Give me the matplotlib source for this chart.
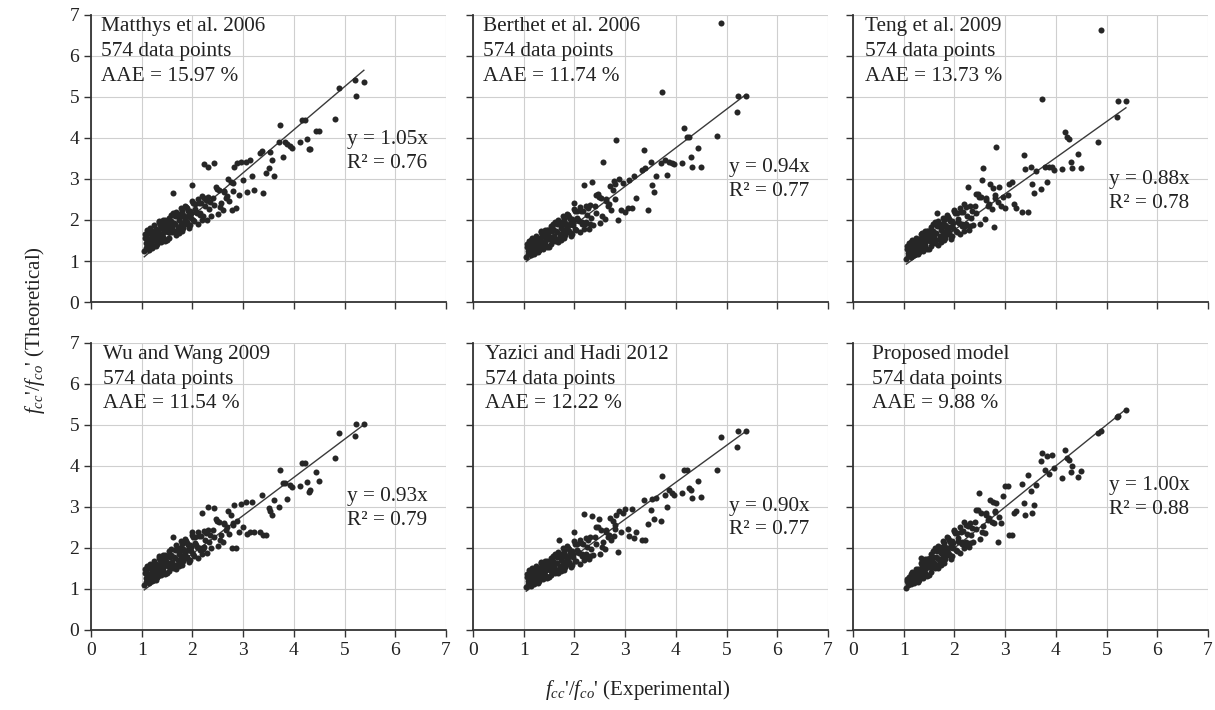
import matplotlib
matplotlib.use('Agg')
import matplotlib.pyplot as plt

plt.rcParams['font.family'] = ['Liberation Serif', 'DejaVu Serif']
plt.rcParams['mathtext.fontset'] = 'custom'
plt.rcParams['mathtext.rm'] = 'Liberation Serif'
plt.rcParams['mathtext.it'] = 'Liberation Serif:italic'

# panel texts
models = ['Matthys et al. 2006', 'Berthet et al. 2006', 'Teng et al. 2009',
          'Wu and Wang 2009', 'Yazici and Hadi 2012', 'Proposed model']
n_points = [574, 574, 574, 574, 574, 574]
aae = ['15.97', '11.74', '13.73', '11.54', '12.22', '9.88']
slopes = [1.05, 0.94, 0.88, 0.93, 0.90, 1.00]
r2 = [0.76, 0.77, 0.78, 0.79, 0.77, 0.88]

# experimental fcc'/fco' (same database for every model)
exp_x = [
    1.05, 1.07, 1.08, 1.10, 1.10, 1.12, 1.13, 1.14, 1.15, 1.16,
    1.17, 1.18, 1.19, 1.20, 1.21, 1.22, 1.23, 1.24, 1.25, 1.26,
    1.27, 1.28, 1.29, 1.30, 1.31, 1.32, 1.33, 1.34, 1.35, 1.36,
    1.37, 1.38, 1.39, 1.40, 1.41, 1.42, 1.43, 1.44, 1.45, 1.46,
    1.47, 1.48, 1.50, 1.51, 1.52, 1.54, 1.55, 1.56, 1.58, 1.59,
    1.60, 1.62, 1.63, 1.65, 1.66, 1.68, 1.70, 1.71, 1.73, 1.75,
    1.76, 1.78, 1.80, 1.82, 1.84, 1.86, 1.88, 1.90, 1.92, 1.94,
    1.96, 1.98, 2.00, 2.02, 2.05, 2.07, 2.10, 2.12, 2.15, 2.18,
    2.20, 2.23, 2.25, 2.28, 2.30, 2.33, 2.36, 2.40, 2.43, 2.46,
    2.50, 2.53, 2.56, 2.60, 2.63, 2.66, 2.70, 2.73, 2.76, 2.80,
    1.06, 1.09, 1.11, 1.13, 1.15, 1.17, 1.19, 1.21, 1.23, 1.25,
    1.27, 1.29, 1.31, 1.33, 1.35, 1.37, 1.39, 1.41, 1.43, 1.45,
    1.48, 1.50, 1.53, 1.55, 1.58, 1.61, 1.64, 1.67, 1.69, 1.72,
    1.74, 1.77, 1.79, 1.81, 1.83, 1.85, 1.87, 1.89, 1.91, 1.93,
    1.95, 1.97, 1.99, 2.01, 2.04, 2.06, 2.09, 2.11, 2.14, 2.17,
    2.19, 2.22, 2.26, 2.31, 2.35, 2.42, 2.48, 2.55, 2.62, 2.68,
    2.78, 2.80, 2.82, 2.85, 2.88, 2.92, 2.95, 3.00, 3.05, 3.08,
    3.14, 3.17, 3.22, 3.33, 3.38, 3.40, 3.45, 3.50, 3.53, 3.56,
    3.60, 3.70, 3.73, 3.78, 3.82, 3.87, 3.92, 3.97, 4.12, 4.17,
    4.22, 4.25, 4.30, 4.31, 4.43, 4.50, 4.82, 4.88, 5.20, 5.22,
    5.38,
]

# theoretical fcc'/fco' per model
matthys = [
    1.24, 1.56, 1.43, 1.75, 1.36, 1.68, 1.52, 1.28, 1.68, 1.46,
    1.81, 1.42, 1.73, 1.57, 1.32, 1.73, 1.50, 1.37, 1.70, 1.56,
    1.62, 1.36, 1.79, 1.55, 1.41, 1.75, 1.61, 1.94, 1.53, 1.87,
    1.60, 1.46, 1.80, 1.66, 1.99, 1.58, 1.92, 1.75, 1.48, 1.91,
    1.96, 1.77, 1.51, 1.96, 1.71, 1.57, 1.91, 1.77, 2.13, 1.70,
    1.80, 2.16, 1.72, 2.09, 1.90, 1.63, 2.09, 1.84, 1.69, 2.07,
    2.15, 1.89, 1.74, 2.12, 1.96, 2.35, 1.90, 2.28, 2.09, 1.80,
    2.23, 2.06, 2.47, 1.99, 2.40, 2.20, 1.91, 2.41, 2.16, 2.00,
    2.10, 2.54, 2.33, 2.01, 2.55, 2.27, 2.10, 2.54, 2.37, 2.81,
    2.14, 2.72, 2.42, 2.25, 2.71, 2.53, 3.00, 2.46, 2.92, 2.71,
    1.67, 1.32, 1.57, 1.49, 1.76, 1.44, 1.67, 1.38, 1.62, 1.88,
    1.50, 1.76, 1.44, 1.70, 1.97, 1.90, 1.53, 1.78, 1.71, 1.99,
    1.83, 1.76, 2.06, 1.70, 1.97, 2.65, 1.92, 2.20, 2.14, 1.76,
    1.99, 2.29, 2.23, 1.81, 2.10, 2.01, 2.31, 1.94, 2.21, 1.87,
    1.87, 2.17, 2.85, 2.41, 1.97, 2.26, 2.17, 2.51, 2.11, 2.41,
    2.59, 3.36, 2.49, 3.30, 2.44, 3.38, 2.76, 2.31, 2.67, 2.59,
    2.24, 2.91, 3.30, 2.28, 3.38, 2.61, 3.42, 2.98, 3.42, 2.69,
    3.46, 3.06, 2.73, 3.63, 3.67, 2.65, 3.14, 3.26, 3.66, 3.46,
    3.08, 3.90, 4.32, 3.54, 3.91, 3.85, 3.80, 3.76, 3.91, 4.44,
    4.44, 3.97, 3.72, 3.72, 4.18, 4.18, 4.46, 5.21, 5.41, 5.01,
    5.37,
]
berthet = [
    1.10, 1.34, 1.25, 1.48, 1.20, 1.44, 1.32, 1.15, 1.44, 1.29,
    1.55, 1.25, 1.50, 1.38, 1.18, 1.50, 1.33, 1.23, 1.49, 1.38,
    1.43, 1.22, 1.56, 1.38, 1.27, 1.54, 1.42, 1.70, 1.37, 1.64,
    1.42, 1.30, 1.60, 1.47, 1.76, 1.41, 1.71, 1.55, 1.33, 1.70,
    1.75, 1.58, 1.35, 1.75, 1.53, 1.41, 1.72, 1.58, 1.91, 1.52,
    1.61, 1.95, 1.54, 1.89, 1.71, 1.46, 1.89, 1.66, 1.52, 1.87,
    1.95, 1.70, 1.55, 1.92, 1.77, 2.15, 1.71, 2.08, 1.89, 1.61,
    2.03, 1.87, 2.27, 1.78, 2.21, 2.00, 1.70, 2.21, 1.95, 1.79,
    1.89, 2.35, 2.13, 1.79, 2.36, 2.06, 1.88, 2.35, 2.17, 2.63,
    1.92, 2.53, 3.41, 2.03, 2.52, 2.33, 2.82, 2.25, 2.73, 2.50,
    1.42, 1.16, 1.35, 1.30, 1.51, 1.27, 1.45, 1.23, 1.42, 1.61,
    1.33, 1.54, 1.28, 1.50, 1.73, 1.68, 1.37, 1.58, 1.52, 1.76,
    1.65, 1.57, 1.85, 1.52, 1.78, 1.48, 1.73, 2.00, 1.93, 1.58,
    1.80, 2.09, 2.02, 1.63, 1.89, 1.82, 2.12, 1.74, 2.02, 1.68,
    1.67, 1.97, 2.41, 2.21, 1.76, 2.06, 1.97, 2.32, 1.91, 2.21,
    2.85, 1.94, 2.29, 1.89, 2.93, 2.62, 2.57, 2.10, 2.46, 2.39,
    2.95, 2.88, 3.95, 2.00, 3.00, 2.25, 2.90, 2.20, 2.30, 2.98,
    2.28, 3.06, 2.53, 3.22, 3.71, 3.26, 2.24, 3.42, 2.85, 2.69,
    3.06, 3.40, 5.13, 3.46, 3.10, 3.42, 3.40, 3.37, 3.38, 4.24,
    4.02, 4.02, 3.54, 3.30, 3.76, 3.30, 4.05, 6.81, 4.64, 5.02,
    5.02,
]
teng = [
    1.05, 1.29, 1.19, 1.43, 1.15, 1.39, 1.27, 1.10, 1.39, 1.24,
    1.51, 1.20, 1.45, 1.33, 1.14, 1.46, 1.28, 1.18, 1.44, 1.34,
    1.39, 1.17, 1.53, 1.33, 1.22, 1.51, 1.38, 1.67, 1.33, 1.61,
    1.39, 1.25, 1.56, 1.44, 1.74, 1.38, 1.67, 1.52, 1.29, 1.68,
    1.73, 1.55, 1.30, 1.73, 1.49, 1.36, 1.69, 1.55, 1.89, 1.48,
    1.58, 1.94, 1.50, 1.86, 2.16, 1.40, 1.86, 1.61, 1.46, 1.83,
    1.91, 1.65, 1.50, 1.88, 1.72, 2.11, 1.65, 2.03, 1.84, 1.54,
    1.98, 1.81, 2.23, 1.73, 2.16, 1.96, 1.65, 2.19, 1.91, 1.74,
    1.86, 2.32, 2.10, 1.76, 2.34, 2.04, 1.87, 2.34, 2.16, 2.63,
    1.90, 2.55, 3.26, 2.02, 2.54, 2.34, 2.87, 2.26, 2.78, 2.54,
    1.37, 1.11, 1.30, 1.25, 1.46, 1.23, 1.40, 1.19, 1.37, 1.57,
    1.29, 1.50, 1.25, 1.46, 1.69, 1.65, 1.33, 1.55, 1.49, 1.73,
    1.61, 1.54, 1.83, 1.48, 1.74, 1.43, 1.69, 1.97, 1.90, 1.53,
    1.76, 2.05, 1.99, 1.57, 1.86, 1.77, 2.07, 1.70, 1.97, 1.62,
    1.61, 1.92, 2.24, 2.17, 1.71, 2.02, 1.93, 2.29, 1.86, 2.19,
    2.39, 1.91, 2.81, 1.86, 2.22, 2.64, 2.57, 2.97, 2.48, 2.40,
    1.84, 2.60, 3.79, 2.45, 2.80, 2.35, 2.55, 2.30, 2.60, 2.88,
    2.92, 2.40, 2.28, 2.20, 3.59, 3.25, 2.20, 3.30, 2.88, 2.65,
    3.20, 2.75, 4.94, 3.30, 2.93, 3.28, 3.30, 3.22, 3.25, 4.15,
    4.02, 3.98, 3.41, 3.26, 3.61, 3.26, 3.91, 6.63, 4.50, 4.91,
    4.91,
]
wu_wang = [
    1.09, 1.39, 1.26, 1.56, 1.21, 1.50, 1.35, 1.14, 1.50, 1.31,
    1.62, 1.26, 1.56, 1.41, 1.19, 1.56, 1.35, 1.23, 1.53, 1.41,
    1.47, 1.23, 1.62, 1.41, 1.28, 1.59, 1.46, 1.76, 1.40, 1.70,
    1.47, 1.33, 1.64, 1.51, 1.83, 1.45, 1.76, 1.60, 1.36, 1.76,
    1.81, 1.63, 1.38, 1.81, 1.57, 1.44, 1.78, 1.63, 1.98, 1.56,
    1.66, 2.27, 1.58, 1.95, 1.76, 1.49, 1.95, 1.70, 1.55, 1.93,
    2.00, 1.75, 1.59, 1.97, 1.82, 2.21, 1.75, 2.13, 1.94, 1.65,
    2.08, 1.92, 2.32, 1.84, 2.26, 2.06, 1.76, 2.28, 2.01, 1.85,
    1.97, 2.41, 2.20, 1.88, 2.43, 2.15, 1.99, 2.43, 2.26, 2.71,
    2.04, 2.62, 2.32, 2.15, 2.61, 2.43, 2.89, 2.35, 2.81, 2.60,
    1.48, 1.17, 1.39, 1.33, 1.57, 1.29, 1.50, 1.25, 1.46, 1.69,
    1.36, 1.59, 1.30, 1.54, 1.80, 1.75, 1.39, 1.64, 1.56, 1.83,
    1.69, 1.62, 1.92, 1.57, 1.83, 1.51, 1.78, 2.06, 2.00, 1.61,
    1.85, 2.16, 2.09, 1.67, 1.95, 1.87, 2.18, 1.78, 2.08, 1.71,
    1.71, 2.02, 2.40, 2.27, 1.81, 2.12, 2.03, 2.39, 1.96, 2.29,
    2.85, 2.02, 2.37, 3.00, 2.32, 2.98, 2.66, 2.20, 2.58, 2.50,
    1.99, 2.55, 3.05, 1.99, 2.65, 2.40, 3.08, 2.50, 3.12, 2.35,
    2.38, 3.12, 2.40, 2.38, 3.29, 2.32, 2.32, 2.98, 2.90, 2.80,
    3.17, 3.00, 3.89, 3.59, 3.59, 3.19, 3.54, 3.49, 3.52, 4.07,
    4.07, 3.60, 3.37, 3.42, 3.86, 3.64, 4.19, 4.81, 4.74, 5.02,
    5.02,
]
yazici = [
    1.04, 1.30, 1.20, 1.45, 1.14, 1.39, 1.27, 1.08, 1.39, 1.22,
    1.51, 1.19, 1.45, 1.32, 1.11, 1.45, 1.27, 1.16, 1.42, 1.31,
    1.36, 1.15, 1.50, 1.31, 1.20, 1.47, 1.35, 1.63, 1.30, 1.57,
    1.36, 1.24, 1.52, 1.40, 1.69, 1.35, 1.62, 1.48, 1.27, 1.62,
    1.66, 1.51, 1.28, 1.67, 1.45, 1.33, 1.63, 1.51, 1.81, 1.45,
    1.53, 1.86, 1.47, 1.79, 1.63, 1.38, 2.20, 1.57, 1.44, 1.77,
    1.85, 1.61, 1.47, 1.82, 1.68, 2.04, 1.62, 1.97, 1.80, 1.53,
    1.92, 1.77, 2.16, 1.69, 2.09, 1.90, 1.61, 2.11, 1.86, 1.71,
    1.81, 2.23, 2.03, 1.72, 2.26, 1.98, 1.82, 2.26, 2.10, 2.52,
    1.86, 2.44, 2.14, 1.97, 2.43, 2.26, 2.73, 2.19, 2.65, 2.45,
    1.37, 1.11, 1.30, 1.25, 1.46, 1.21, 1.40, 1.17, 1.36, 1.56,
    1.26, 1.48, 1.22, 1.42, 1.65, 1.60, 1.30, 1.51, 1.45, 1.68,
    1.57, 1.49, 1.76, 1.44, 1.68, 1.39, 1.64, 1.90, 1.85, 1.50,
    1.71, 1.99, 1.93, 1.54, 1.80, 1.72, 2.01, 1.66, 1.91, 1.58,
    1.58, 1.86, 2.40, 2.10, 1.68, 1.96, 1.88, 2.19, 1.80, 2.10,
    2.83, 1.86, 2.19, 1.80, 2.78, 2.51, 2.71, 2.03, 2.39, 2.32,
    2.30, 2.55, 2.80, 1.91, 2.90, 2.40, 2.85, 2.95, 2.45, 2.30,
    2.95, 2.25, 2.40, 2.20, 3.17, 2.20, 2.58, 2.93, 3.20, 2.70,
    3.22, 2.65, 3.76, 3.30, 2.99, 3.40, 3.33, 3.28, 3.35, 3.90,
    3.90, 3.45, 3.41, 3.21, 3.64, 3.25, 3.90, 4.70, 4.46, 4.85,
    4.85,
]
proposed = [
    1.03, 1.20, 1.15, 1.30, 1.13, 1.28, 1.22, 1.12, 1.30, 1.21,
    1.42, 1.18, 1.39, 1.29, 1.14, 1.40, 1.27, 1.19, 1.39, 1.31,
    1.36, 1.17, 1.49, 1.32, 1.22, 1.48, 1.38, 1.63, 1.33, 1.58,
    1.39, 1.27, 1.56, 1.44, 1.73, 1.39, 1.67, 1.53, 1.32, 1.68,
    1.74, 1.58, 1.35, 1.75, 1.54, 1.42, 1.73, 1.60, 1.93, 1.55,
    1.64, 1.99, 1.58, 1.93, 1.76, 1.51, 1.95, 1.72, 1.59, 1.94,
    2.03, 1.78, 1.64, 2.02, 1.87, 2.26, 1.82, 2.20, 2.02, 1.74,
    2.17, 2.01, 2.42, 1.94, 2.37, 2.17, 1.88, 2.40, 2.14, 1.99,
    2.10, 2.57, 2.35, 2.02, 2.60, 2.31, 2.14, 2.62, 2.45, 2.92,
    2.22, 2.84, 2.53, 2.36, 2.86, 2.68, 3.18, 2.62, 3.11, 2.88,
    1.25, 1.09, 1.24, 1.21, 1.36, 1.20, 1.34, 1.20, 1.34, 1.48,
    1.27, 1.47, 1.24, 1.75, 1.66, 1.62, 1.34, 1.55, 1.50, 1.72,
    1.64, 1.57, 1.85, 1.54, 1.79, 1.51, 1.77, 2.04, 1.99, 1.65,
    1.87, 2.17, 2.11, 1.72, 1.99, 1.92, 2.23, 1.86, 2.14, 1.81,
    1.80, 2.11, 2.43, 2.36, 1.92, 2.23, 2.15, 2.50, 2.10, 2.41,
    2.63, 2.15, 2.53, 2.12, 2.49, 2.92, 3.33, 2.40, 2.80, 2.74,
    2.60, 2.90, 3.10, 2.15, 2.75, 2.60, 3.27, 3.50, 3.50, 2.32,
    2.32, 2.85, 2.90, 3.55, 3.10, 2.80, 3.78, 3.38, 2.85, 3.05,
    3.54, 4.11, 4.31, 3.90, 4.24, 3.80, 4.27, 3.96, 3.70, 4.39,
    4.19, 4.15, 3.85, 4.00, 3.72, 3.88, 4.81, 4.86, 5.20, 5.22,
    5.37,
]
theoretical = [matthys, berthet, teng, wu_wang, yazici, proposed]

# where the text blocks sit in each panel (data units)
label_x = [0.2, 0.2, 0.24, 0.24, 0.24, 0.38]
eq_y = [3.66, 2.98, 2.70, 2.97, 2.73, 3.23]

fig = plt.figure(figsize=(12.15, 7.1), dpi=100)
lefts = [0.0749, 0.3893, 0.7021]
bottoms = [0.5746, 0.1127]
pw, ph = 0.2922, 0.4045

xmin, xmax = min(exp_x), max(exp_x)
for i in range(6):
    row, col = i // 3, i % 3
    ax = fig.add_axes([lefts[col], bottoms[row], pw, ph])
    k = slopes[i]
    ax.plot([xmin, xmax], [k * xmin, k * xmax], color='#3a3a3a', lw=1.0, zorder=2)
    ax.scatter(exp_x, theoretical[i], s=19, color='#262626', linewidths=0, zorder=3)

    ax.set_xlim(0, 7)
    ax.set_ylim(0, 7)
    ax.set_xticks(range(8))
    ax.set_yticks(range(8))
    ax.grid(color='#cfcfcf', lw=0.8)
    ax.set_axisbelow(True)
    for s in ['top', 'right']:
        ax.spines[s].set_visible(False)
    for s in ['left', 'bottom']:
        ax.spines[s].set_color('#333333')
        ax.spines[s].set_linewidth(1.3)
    ax.tick_params(direction='out', length=5, width=1, color='#333333',
                   labelsize=14, labelcolor='#222222')
    if col != 0:
        ax.set_yticklabels([])
    if row == 0:
        ax.set_xticklabels([])

    ax.text(label_x[i], 6.94,
            f"{models[i]}\n{n_points[i]} data points\nAAE = {aae[i]} %",
            ha='left', va='top', fontsize=15.3, linespacing=1.4, color='#222222')
    ax.text(5.05, eq_y[i], f"y = {k:.2f}x\nR\u00b2 = {r2[i]:.2f}",
            ha='left', va='center', fontsize=15.3, linespacing=1.35, color='#222222')

fig.text(0.525, 0.028, r"$f_{cc}$'/$f_{co}$' (Experimental)",
         ha='center', va='center', fontsize=15, color='#222222')
fig.text(0.029, 0.535, r"$f_{cc}$'/$f_{co}$' (Theoretical)",
         ha='center', va='center', rotation=90, fontsize=15, color='#222222')

fig.savefig('out.png', dpi=100)
